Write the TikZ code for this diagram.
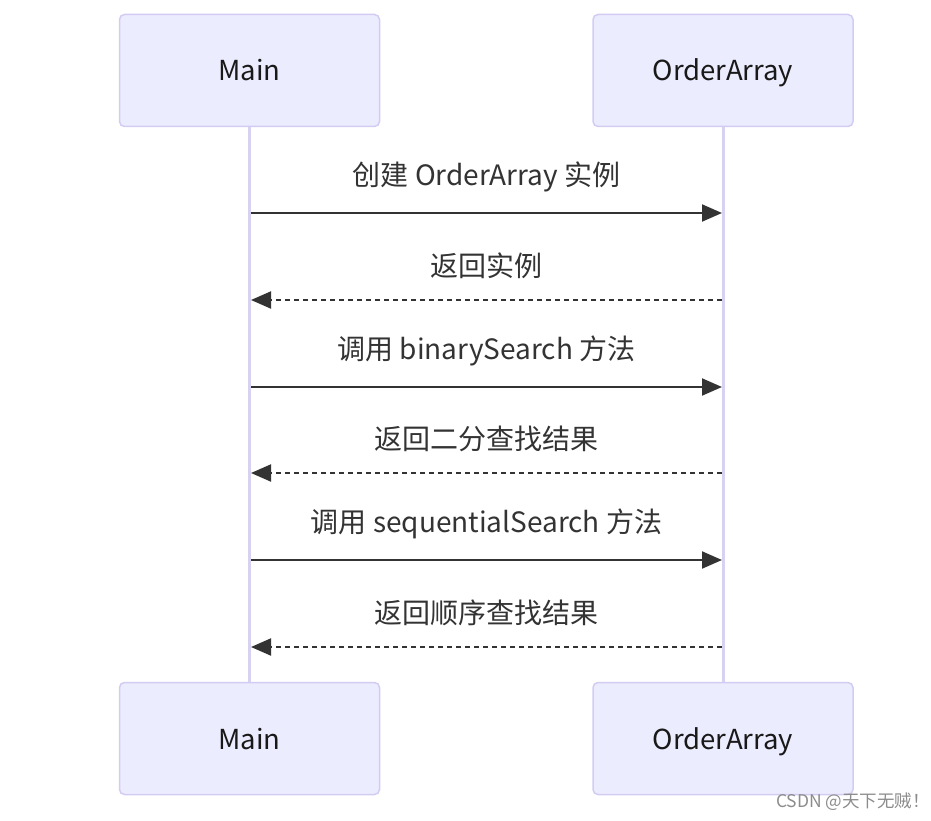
\documentclass[tikz,border=0pt]{standalone}
\usepackage{fontspec}
\setmainfont{Noto Sans CJK SC}
\usetikzlibrary{positioning, arrows.meta, backgrounds}
\definecolor{actorfill}{HTML}{ECECFF}
\definecolor{actorline}{HTML}{D3CCF2}
\definecolor{lifeline}{HTML}{D8D2F2}
\definecolor{msgcolor}{HTML}{333333}

\begin{document}
\begin{tikzpicture}[
    x=1pt, y=-1pt,
    actorbox/.style={rectangle, rounded corners=5pt, draw=actorline, line width=1.5pt, fill=actorfill, minimum width=260pt, minimum height=112pt, text height=21pt, text depth=0pt, font=\fontsize{27.5}{32}\selectfont, text=black!90},
    lifeln/.style={draw=lifeline, line width=3pt},
    msgline/.style={draw=msgcolor, line width=2pt, -{Triangle[length=20pt,width=17pt]}},
    replyline/.style={msgline, dash pattern=on 5pt off 4pt},
    msglabel/.style={font=\fontsize{28}{32}\selectfont, text=msgcolor}
    ]
    \useasboundingbox (0,0) rectangle (931,821);

    \node[actorbox]      (mainTop)      at (249.5,70.5)  {Main};
    \node[actorbox]      (arrTop)       at (723,70.5)    {OrderArray};
    \node[actorbox]      (mainBot)      at (249.5,738.5) {Main};
    \node[actorbox]      (arrBot)       at (723,738.5)   {OrderArray};

    \begin{pgfonlayer}{background}
    \draw[lifeln] (mainTop.south) -- (mainBot.north);
    \draw[lifeln] (arrTop.south) -- (arrBot.north);
    \end{pgfonlayer}

    % message ends on the lifelines
    \coordinate (createA) at (251,213);  \coordinate (createB) at (722,213);
    \coordinate (backA)   at (251,300);  \coordinate (backB)   at (722,300);
    \coordinate (binA)    at (251,387);  \coordinate (binB)    at (722,387);
    \coordinate (binrA)   at (251,473);  \coordinate (binrB)   at (722,473);
    \coordinate (seqA)    at (251,560);  \coordinate (seqB)    at (722,560);
    \coordinate (seqrA)   at (251,647);  \coordinate (seqrB)   at (722,647);

    \draw[msgline]   (createA) -- node[msglabel, above=17pt] {创建 OrderArray 实例} (createB);
    \draw[replyline] (backB)   -- node[msglabel, above=17pt] {返回实例} (backA);
    \draw[msgline]   (binA)    -- node[msglabel, above=17pt] {调用 binarySearch 方法} (binB);
    \draw[replyline] (binrB)   -- node[msglabel, above=17pt] {返回二分查找结果} (binrA);
    \draw[msgline]   (seqA)    -- node[msglabel, above=17pt] {调用 sequentialSearch 方法} (seqB);
    \draw[replyline] (seqrB)   -- node[msglabel, above=17pt] {返回顺序查找结果} (seqrA);

    \node[text=black!45, font=\fontsize{17.5}{20}\selectfont, anchor=east, inner sep=0pt] (mark) at (930,802) {CSDN @天下无贼！};
\end{tikzpicture}
\end{document}
